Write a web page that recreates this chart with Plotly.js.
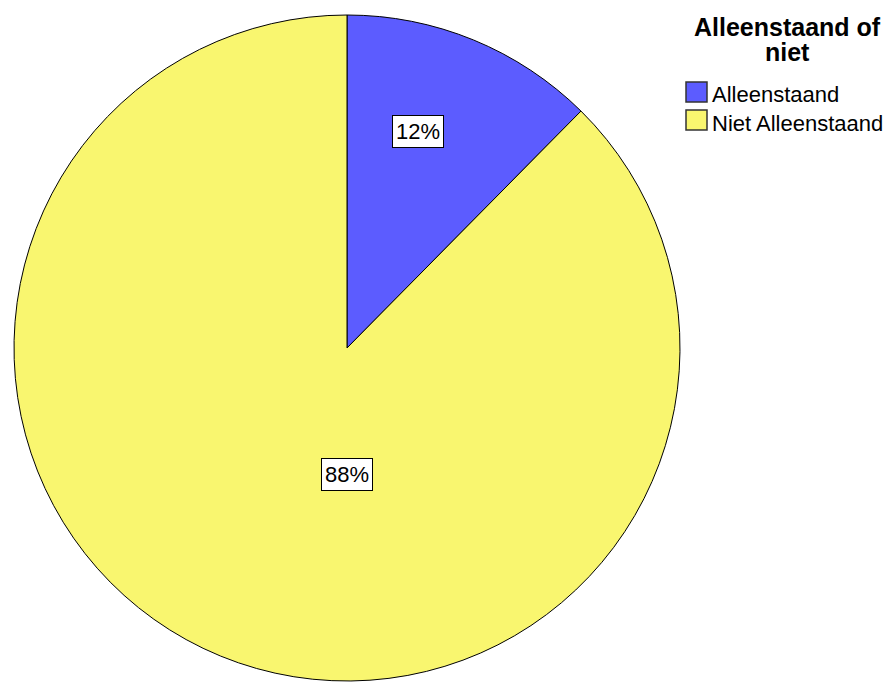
<!DOCTYPE html>
<html>
<head>
<meta charset="utf-8">
<script src="https://cdn.plot.ly/plotly-3.0.1.min.js"></script>
<style>html,body{margin:0;padding:0;background:#fff;}#chart{width:890px;height:682px;}</style>
</head>
<body>
<div id="chart"></div>
<script>
// Data
var categories = ["Alleenstaand", "Niet Alleenstaand"];
var values = [12.4, 87.6];
var legendTitleLines = ["Alleenstaand of", "niet"];

// Styles
var colors = ["#5c5cff", "#f9f66f"];
var FONT = "Liberation Sans, Arial, sans-serif";
var W = 890, H = 682;
var labelPos = [[418, 131], [347, 474]];      // pixel centers of the boxed percentage labels
var legendTitleY = [27, 52];                   // pixel centers of the legend title lines
var legendTitleX = 787;
var legendBoxX = [686, 707];
var legendRowTop = 82, legendRowStep = 28, legendBoxH = 20;
var legendTextX = 710;

function px(x){ return x / W; }
function py(y){ return 1 - y / H; }

var total = values.reduce(function(a, b){ return a + b; }, 0);
var pctText = values.map(function(v){ return Math.round(v / total * 100) + "%"; });

var annotations = pctText.map(function(t, i){
  return {
    text: t, xref: "paper", yref: "paper",
    x: px(labelPos[i][0]), y: py(labelPos[i][1]),
    showarrow: false, xanchor: "center", yanchor: "middle",
    font: {family: FONT, size: 22, color: "#000"},
    bgcolor: "#ffffff", bordercolor: "#000000", borderwidth: 1, borderpad: 3
  };
});

legendTitleLines.forEach(function(t, i){
  annotations.push({
    text: "<b>" + t + "</b>", xref: "paper", yref: "paper",
    x: px(legendTitleX), y: py(legendTitleY[i]),
    showarrow: false, xanchor: "center", yanchor: "middle", borderpad: 0,
    font: {family: FONT, size: 25, color: "#000"}
  });
});

var shapes = [];
categories.forEach(function(c, i){
  var top = legendRowTop + i * legendRowStep;
  shapes.push({
    type: "rect", xref: "paper", yref: "paper",
    x0: px(legendBoxX[0]), x1: px(legendBoxX[1]),
    y0: py(top), y1: py(top + legendBoxH),
    fillcolor: colors[i], line: {color: "#333333", width: 1.5}
  });
  annotations.push({
    text: c, xref: "paper", yref: "paper",
    x: px(legendTextX), y: py(top + legendBoxH / 2 + 3),
    showarrow: false, xanchor: "left", yanchor: "middle",
    font: {family: FONT, size: 22, color: "#000"}
  });
});

var trace = {
  type: "pie",
  labels: categories,
  values: values,
  sort: false,
  direction: "clockwise",
  rotation: 0,
  textinfo: "none",
  hoverinfo: "label+percent",
  showlegend: false,
  marker: {colors: colors, line: {color: "#000000", width: 1}},
  domain: {x: [12 / W, 682 / W], y: [1 - 681 / H, 1 - 15 / H]}
};

var layout = {
  width: W, height: H,
  margin: {l: 0, r: 0, t: 0, b: 0},
  paper_bgcolor: "#ffffff",
  showlegend: false,
  annotations: annotations,
  shapes: shapes
};

Plotly.newPlot("chart", [trace], layout, {displayModeBar: false, staticPlot: true});
</script>
</body>
</html>
